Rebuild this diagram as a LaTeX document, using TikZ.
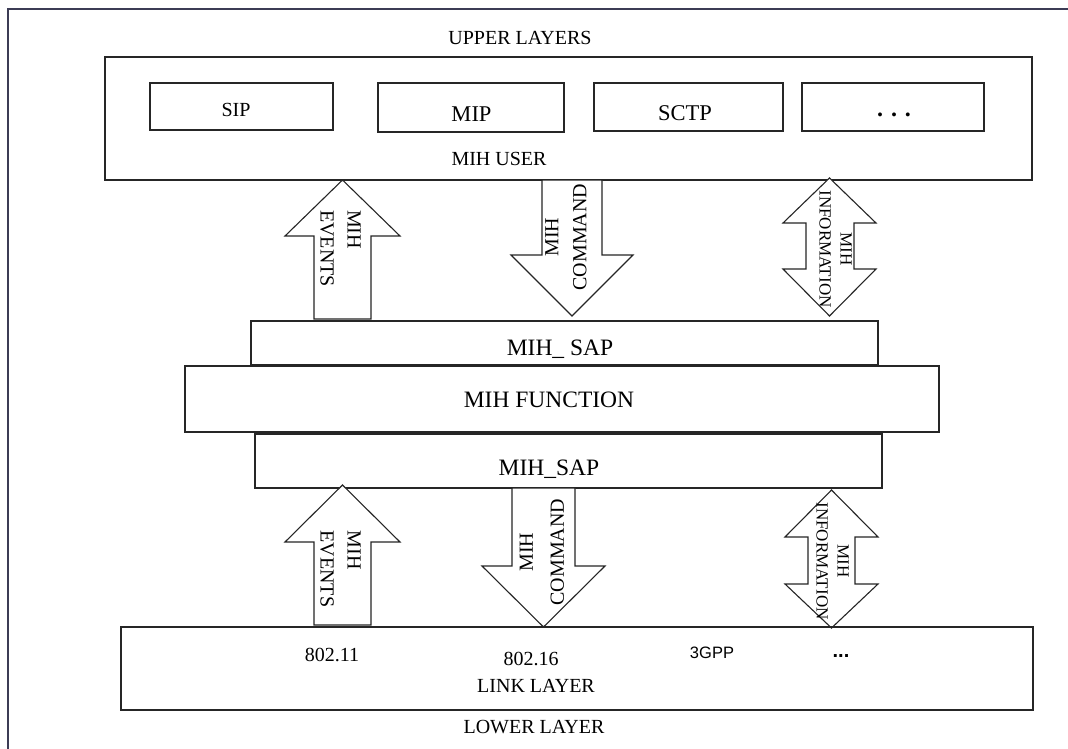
\documentclass[tikz,border=0pt]{standalone}
\usepackage{fontspec}
\setmainfont{Liberation Serif}
\newfontfamily\sansf{Liberation Sans}
\begin{document}
\begin{tikzpicture}[x=1pt,y=-1pt,
  box/.style={draw=black!85,line width=1.1pt},
  blk/.style={draw=black!85,line width=1.1pt,fill=white,line join=miter},
  lbl/.style={inner sep=0pt,anchor=base},
  rot/.style={inner sep=0pt,rotate=-90,align=center},
  rotup/.style={inner sep=0pt,rotate=90,align=center},
  rotl/.style={inner sep=0pt,rotate=-90,align=left}]
\useasboundingbox (0,0) rectangle (1068,749);
\fill[white] (0,0) rectangle (1068,749);
% outer frame
\draw[line width=1.1pt,draw={rgb,255:red,60;green,60;blue,85}] (8,749) -- (8,9) -- (1068,9);
% upper
\node[lbl,font=\fontsize{20}{24}\selectfont] (upper) at (520,45) {UPPER LAYERS};
\draw[box] (105,57) rectangle (1032,180);
\draw[box] (150,83) rectangle (333,130);
\draw[box] (378,83) rectangle (564,132);
\draw[box] (594,83) rectangle (783,131);
\draw[box] (802,83) rectangle (984,131);
\node[lbl,font=\fontsize{20}{24}\selectfont] (sip) at (236,117) {SIP};
\node[lbl,font=\fontsize{22.5}{26}\selectfont] (mip) at (471.5,121.5) {MIP};
\node[lbl,font=\fontsize{22.5}{26}\selectfont] (sctp) at (685,121) {SCTP};
\node[lbl,font=\fontsize{24}{26}\selectfont\bfseries] (udots) at (894,117) {. . .};
\node[lbl,font=\fontsize{20}{24}\selectfont] (user) at (499,165) {MIH USER};
% upper arrows
\draw[blk] (314,319) -- (314,236) -- (285,236) -- (342.5,180) -- (400,236) -- (371,236) -- (371,319) -- cycle;
\node[rotl,font=\fontsize{20}{27}\selectfont] (ev1) at (340.5,248.5) {MIH\\EVENTS};
\draw[blk] (542,180) -- (542,255) -- (511,255) -- (572,316) -- (633,255) -- (602,255) -- (602,180) -- cycle;
\node[rotup,font=\fontsize{20}{28}\selectfont] (cm1) at (566,237) {MIH\\COMMAND};
\draw[blk] (829.5,178) -- (876,223) -- (854,223) -- (854,269) -- (876,269) -- (829.5,316) -- (783,269) -- (806,269) -- (806,223) -- (783,223) -- cycle;
\node[rot,font=\fontsize{17}{21}\selectfont] (in1) at (835.5,249) {MIH\\INFORMATION};
% middle
\draw[box] (251,321) rectangle (878,365);
\node[lbl,font=\fontsize{23.5}{28}\selectfont] (sap1) at (560,355) {MIH\_ SAP};
\draw[box] (185,366) rectangle (939,432);
\node[lbl,font=\fontsize{23.5}{28}\selectfont] (func) at (549,407) {MIH FUNCTION};
\draw[box] (255,434) rectangle (882,488);
\node[lbl,font=\fontsize{23.5}{28}\selectfont] (sap2) at (549,475) {MIH\_SAP};
% lower arrows
\draw[blk] (314,625) -- (314,542) -- (285,542) -- (342.5,485) -- (400,542) -- (371,542) -- (371,625) -- cycle;
\node[rotl,font=\fontsize{20}{27}\selectfont] (ev2) at (340.5,569) {MIH\\EVENTS};
\draw[blk] (512,488) -- (512,566) -- (482,566) -- (543.5,627) -- (605,566) -- (575,566) -- (575,488) -- cycle;
\node[rotup,font=\fontsize{20}{31}\selectfont] (cm2) at (542,552) {MIH\\COMMAND};
\draw[blk] (831.5,490) -- (878,537) -- (855,537) -- (855,584) -- (878,584) -- (831.5,628) -- (785,584) -- (808,584) -- (808,537) -- (785,537) -- cycle;
\node[rot,font=\fontsize{17}{21}\selectfont] (in2) at (832.5,561) {MIH\\INFORMATION};
% link layer
\draw[box] (121,627) rectangle (1033,710);
\node[lbl,font=\fontsize{20}{24}\selectfont] (w11) at (332,661.5) {802.11};
\node[lbl,font=\fontsize{20}{24}\selectfont] (w16) at (531,665) {802.16};
\node[lbl,font=\fontsize{16.5}{20}\selectfont\sansf] (g3) at (712,658) {3GPP};
\node[lbl,font=\fontsize{20}{24}\selectfont\sansf\bfseries] (ldots) at (841,657) {...};
\node[lbl,font=\fontsize{20}{24}\selectfont] (link) at (536,692) {LINK LAYER};
\node[lbl,font=\fontsize{20}{24}\selectfont] (lower) at (534,733) {LOWER LAYER};
\end{tikzpicture}
\end{document}
